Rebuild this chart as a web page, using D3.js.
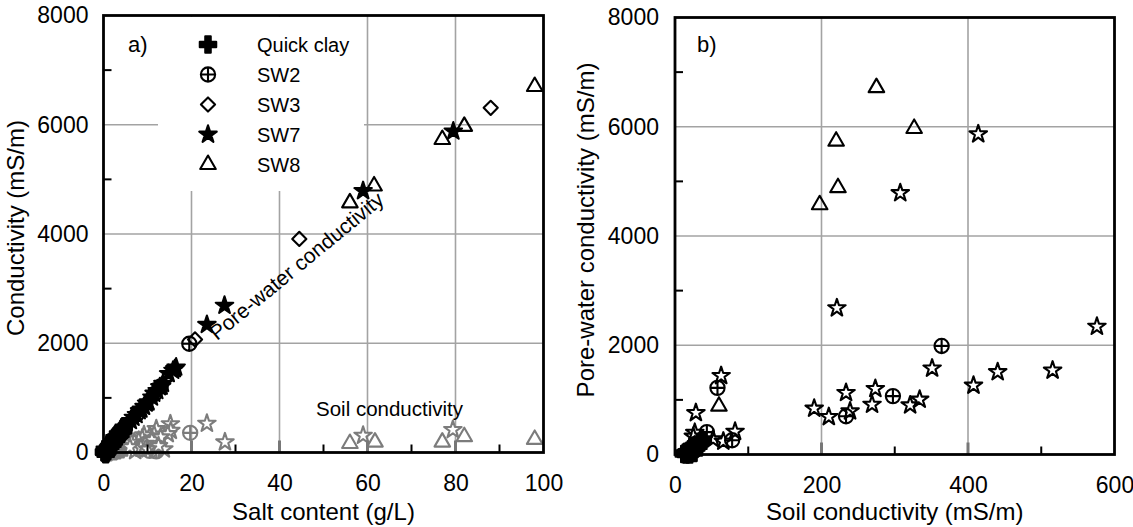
<!DOCTYPE html>
<html>
<head>
<meta charset="utf-8">
<script src="https://cdn.jsdelivr.net/npm/d3@7"></script>
<style>
    body { margin: 0; background: #fff; }
    text { font-family: "Liberation Sans", Arial, sans-serif; fill: #000; }
</style>
</head>
<body>
<svg id="chart" width="1133" height="527"></svg>
<script>
// ---- panel a, pore-water conductivity (mS/m) vs salt content (g/L), black marks
const aQuickClayPore = [[0.2, 0], [0.4, 20], [0.6, 50], [0.8, 40], [1.0, 80], [1.2, 100], [1.4, 120], [1.6, 140],
    [1.8, 160], [2.0, 180], [2.2, 200], [2.4, 220], [2.7, 240], [3.0, 270], [3.2, 290], [3.5, 320], [3.8, 350],
    [4.0, 380], [4.2, 400], [4.4, 430], [4.6, 460], [0.3, 60], [1.0, 30], [2.0, 150], [0.5, -30], [0.1, 10],
    [0.7, 0], [3.3, 340], [4.5, 400], [2.5, 270]];
const aSW2Pore = [[19.5, 1990], [11.6, 1070], [7.6, 700], [13, 1210], [4.3, 400], [2.7, 250]];
const aSW3Pore = [[44.5, 3910], [88, 6310], [20.8, 2070]];
const aSW7Pore = [[79.5, 5880], [59, 4790], [27.5, 2690], [23.5, 2340], [16.5, 1560], [15.8, 1500], [16.2, 1530],
    [14.8, 1440], [13.5, 1260], [12.8, 1200], [12.2, 1130], [11, 1010], [10.2, 920], [9.8, 900], [9.2, 840],
    [8.6, 790], [8.2, 760], [7.5, 690], [6.8, 640], [6.2, 580], [13.2, 1210], [11.5, 1080], [4.5, 420],
    [4.2, 400], [3, 280], [2.6, 240], [3.5, 330], [2.2, 200]];
const aSW8Pore = [[56, 4570], [61.5, 4880], [77, 5730], [82, 5970], [98, 6700], [9.6, 885]];

// ---- panel a, soil conductivity (mS/m) vs salt content (g/L), grey marks
const aQuickClaySoil = [[0.3, 0], [0.6, 10], [1, 20], [1.4, 30], [1.8, 40], [2.2, 50], [2.6, 60], [3, 70],
    [3.4, 80], [3.8, 100], [4.2, 120], [4.6, 140], [5, 160], [1.2, 5], [2.4, 25], [3.2, 40], [4, 60], [4.8, 90]];
const aSW2Soil = [[19.7, 360], [12, 20], [10.5, 30], [8, 60]];
const aSW7Soil = [[79.4, 415], [59, 310], [27.6, 190], [23.5, 530], [15.2, 520], [15.3, 400], [14.6, 340],
    [12, 430], [11.5, 330], [10.5, 300], [9.2, 320], [8.8, 260], [8, 220], [7, 190], [6.3, 180], [11, 230],
    [13, 280], [9.5, 160], [13.7, 60], [7.2, 30], [12.5, 120], [8.5, 90], [6, 100], [10, 60]];
const aSW8Soil = [[56, 165], [61.7, 190], [77, 190], [82, 290], [98, 240], [9.6, 60]];

// ---- panel b, pore-water conductivity vs soil conductivity (mS/m)
const bQuickClay = [[12, 10], [14, 30], [16, 50], [18, 20], [19, 70], [21, 90], [22, 40], [24, 110], [25, 70],
    [27, 140], [29, 120], [30, 170], [32, 150], [34, 200], [36, 230], [38, 260], [20, 0], [26, 30], [15, 0], [23, 140]];
const bSW2 = [[364, 1987], [297.5, 1069], [233.5, 701], [58, 1220], [43.5, 410], [78, 260]];
const bSW7 = [[414, 5865], [307.5, 4787], [221, 2680], [576, 2342], [351, 1577], [440.5, 1510], [515.5, 1540],
    [407.5, 1264], [63, 1440], [28.5, 762], [190, 843], [210, 689], [233.5, 1130], [239, 793], [273.5, 1203],
    [269, 915], [321, 903], [334, 1007], [82, 420], [27, 400], [52, 280], [66, 240], [25, 330], [30, 200], [35, 260]];
const bSW8 = [[275, 6716], [326.5, 5969], [220, 5736], [222.5, 4885], [197.5, 4572], [60, 885]];

// ---- ticks
const yTicks = [0, 2000, 4000, 6000, 8000];
const yMinor = [1000, 3000, 5000, 7000];
const xTicksA = [0, 20, 40, 60, 80, 100];
const xMinorA = [10, 30, 50, 70, 90];
const xTicksB = [0, 200, 400, 600];
const xMinorB = [100, 300, 500];
const legendNames = ["Quick clay", "SW2", "SW3", "SW7", "SW8"];

const GREY = "#7c7c7c";
const GRID = "#a3a3a3";

// custom marker shapes
const circlePlus = {
    draw(context, size) {
        let r = Math.sqrt(size / Math.PI);
        context.moveTo(r, 0);
        context.arc(0, 0, r, 0, 2 * Math.PI);
        context.moveTo(-r, 0);
        context.lineTo(r, 0);
        context.moveTo(0, -r);
        context.lineTo(0, r);
    }
};
const diamond = {
    draw(context, size) {
        let r = Math.sqrt(size / 2);
        context.moveTo(0, -r);
        context.lineTo(r, 0);
        context.lineTo(0, r);
        context.lineTo(-r, 0);
        context.closePath();
    }
};

const shapes = {
    qc: {type: d3.symbolCross, size: 150},
    sw2: {type: circlePlus, size: 160},
    sw3: {type: diamond, size: 100},
    sw7: {type: d3.symbolStar, size: 95},
    sw8: {type: d3.symbolTriangle, size: 105}
};

let svg = d3.select("#chart");

function drawPoints(g, data, x, y, shape, fill, stroke) {
    g.append("g")
        .selectAll("path")
        .data(data)
        .enter()
        .append("path")
        .attr("d", d3.symbol().type(shape.type).size(shape.size))
        .attr("transform", (d) => "translate(" + x(d[0]) + "," + y(d[1]) + ")")
        .attr("fill", fill)
        .attr("stroke", stroke)
        .attr("stroke-width", 2.1)
        .attr("stroke-linejoin", "round");
}

function drawFrame(g, x, y, xTicks, xMinor, yPad, xTitle, yTitle, yTitleX) {
    let x0 = x.range()[0], x1 = x.range()[1];
    let y0 = y.range()[0], y1 = y.range()[1];

    // minor ticks, inward
    g.append("g").selectAll("line").data(xMinor).enter().append("line")
        .attr("x1", (d) => x(d)).attr("x2", (d) => x(d))
        .attr("y1", y0).attr("y2", y0 - 8)
        .attr("stroke", "#000").attr("stroke-width", 2);
    g.append("g").selectAll("line").data(yMinor).enter().append("line")
        .attr("x1", x0).attr("x2", x0 + 8)
        .attr("y1", (d) => y(d)).attr("y2", (d) => y(d))
        .attr("stroke", "#000").attr("stroke-width", 2);
    // major x ticks, grey and a bit heavier
    g.append("g").selectAll("line").data(xTicks.slice(1, -1)).enter().append("line")
        .attr("x1", (d) => x(d)).attr("x2", (d) => x(d))
        .attr("y1", y0).attr("y2", y0 - 12)
        .attr("stroke", "#777").attr("stroke-width", 3);

    g.append("rect")
        .attr("x", x0).attr("y", y1)
        .attr("width", x1 - x0).attr("height", y0 - y1)
        .attr("fill", "none").attr("stroke", "#000").attr("stroke-width", 2.8);

    let xAxis = g.append("g")
        .attr("transform", "translate(0," + y0 + ")")
        .call(d3.axisBottom(x).tickValues(xTicks).tickFormat(d3.format("d")).tickSize(0).tickPadding(22));
    let yAxis = g.append("g")
        .attr("transform", "translate(" + x0 + ",0)")
        .call(d3.axisLeft(y).tickValues(yTicks).tickFormat(d3.format("d")).tickSize(0).tickPadding(yPad));
    [xAxis, yAxis].forEach((a) => {
        a.select(".domain").remove();
        a.selectAll("text").attr("font-size", 23).attr("font-family", "Liberation Sans, Arial, sans-serif").attr("fill", "#000");
    });

    g.append("text")
        .attr("x", (x0 + x1) / 2).attr("y", 520)
        .attr("text-anchor", "middle").attr("font-size", 24)
        .text(xTitle);
    g.append("text")
        .attr("transform", "translate(" + yTitleX + "," + ((y0 + y1) / 2 - 6) + ") rotate(-90)")
        .attr("text-anchor", "middle").attr("font-size", 24)
        .text(yTitle);
}

// ================= panel a
let xA = d3.scaleLinear().domain([0, 100]).range([103.5, 543.5]);
let yA = d3.scaleLinear().domain([0, 8000]).range([452.5, 15.5]);
let gA = svg.append("g");

gA.append("g").selectAll("line").data(xTicksA.slice(1, -1)).enter().append("line")
    .attr("x1", (d) => xA(d)).attr("x2", (d) => xA(d))
    .attr("y1", yA(8000)).attr("y2", yA(0))
    .attr("stroke", GRID).attr("stroke-width", 1.6);
gA.append("g").selectAll("line").data(yTicks.slice(1, -1)).enter().append("line")
    .attr("x1", xA(0)).attr("x2", xA(100))
    .attr("y1", (d) => yA(d)).attr("y2", (d) => yA(d))
    .attr("stroke", GRID).attr("stroke-width", 1.6);

// white box behind legend hides the grid
gA.append("rect")
    .attr("x", 158).attr("y", 17).attr("width", 206).attr("height", 174)
    .attr("fill", "#fff");

drawPoints(gA, aQuickClaySoil, xA, yA, shapes.qc, GREY, GREY);
drawPoints(gA, aSW2Soil, xA, yA, shapes.sw2, "none", GREY);
drawPoints(gA, aSW7Soil, xA, yA, shapes.sw7, "#fff", GREY);
drawPoints(gA, aSW8Soil, xA, yA, shapes.sw8, "none", GREY);

drawPoints(gA, aSW8Pore, xA, yA, shapes.sw8, "none", "#000");
drawPoints(gA, aSW3Pore, xA, yA, shapes.sw3, "none", "#000");
drawPoints(gA, aSW2Pore, xA, yA, shapes.sw2, "none", "#000");
drawPoints(gA, aQuickClayPore, xA, yA, shapes.qc, "#000", "#000");
drawPoints(gA, aSW7Pore, xA, yA, shapes.sw7, "#000", "#000");

gA.append("text")
    .attr("transform", "translate(217,341) rotate(-39.5)")
    .attr("font-size", 21)
    .text("Pore-water conductivity");
gA.append("text")
    .attr("x", 316).attr("y", 416)
    .attr("font-size", 20.5)
    .text("Soil conductivity");
gA.append("text")
    .attr("x", 128).attr("y", 52)
    .attr("font-size", 22)
    .text("a)");

// legend
let legendShapes = [shapes.qc, shapes.sw2, shapes.sw3, shapes.sw7, shapes.sw8];
let legendFill = ["#000", "none", "none", "#000", "none"];
let legend = gA.append("g").selectAll("g").data(legendNames).enter().append("g")
    .attr("transform", (d, i) => "translate(208," + (44.5 + i * 30) + ")");
legend.append("path")
    .attr("d", (d, i) => d3.symbol().type(legendShapes[i].type).size(legendShapes[i].size)())
    .attr("fill", (d, i) => legendFill[i])
    .attr("stroke", "#000").attr("stroke-width", 2.1).attr("stroke-linejoin", "round");
legend.append("text")
    .attr("x", 49).attr("dy", "0.36em")
    .attr("font-size", 20)
    .text((d) => d);

drawFrame(gA, xA, yA, xTicksA, xMinorA, 15, "Salt content (g/L)", "Conductivity (mS/m)", 24);

// ================= panel b
let xB = d3.scaleLinear().domain([0, 600]).range([675, 1114.5]);
let yB = d3.scaleLinear().domain([0, 8000]).range([454.5, 17.5]);
let gB = svg.append("g");

gB.append("g").selectAll("line").data(xTicksB.slice(1, -1)).enter().append("line")
    .attr("x1", (d) => xB(d)).attr("x2", (d) => xB(d))
    .attr("y1", yB(8000)).attr("y2", yB(0))
    .attr("stroke", GRID).attr("stroke-width", 1.6);
gB.append("g").selectAll("line").data(yTicks.slice(1, -1)).enter().append("line")
    .attr("x1", xB(0)).attr("x2", xB(600))
    .attr("y1", (d) => yB(d)).attr("y2", (d) => yB(d))
    .attr("stroke", GRID).attr("stroke-width", 1.6);

drawPoints(gB, bQuickClay, xB, yB, shapes.qc, "#000", "#000");
drawPoints(gB, bSW8, xB, yB, shapes.sw8, "none", "#000");
drawPoints(gB, bSW7, xB, yB, shapes.sw7, "none", "#000");
drawPoints(gB, bSW2, xB, yB, shapes.sw2, "none", "#000");

gB.append("text")
    .attr("x", 697).attr("y", 52)
    .attr("font-size", 22)
    .text("b)");

drawFrame(gB, xB, yB, xTicksB, xMinorB, 16, "Soil conductivity (mS/m)", "Pore-water conductivity (mS/m)", 594);
</script>
</body>
</html>
